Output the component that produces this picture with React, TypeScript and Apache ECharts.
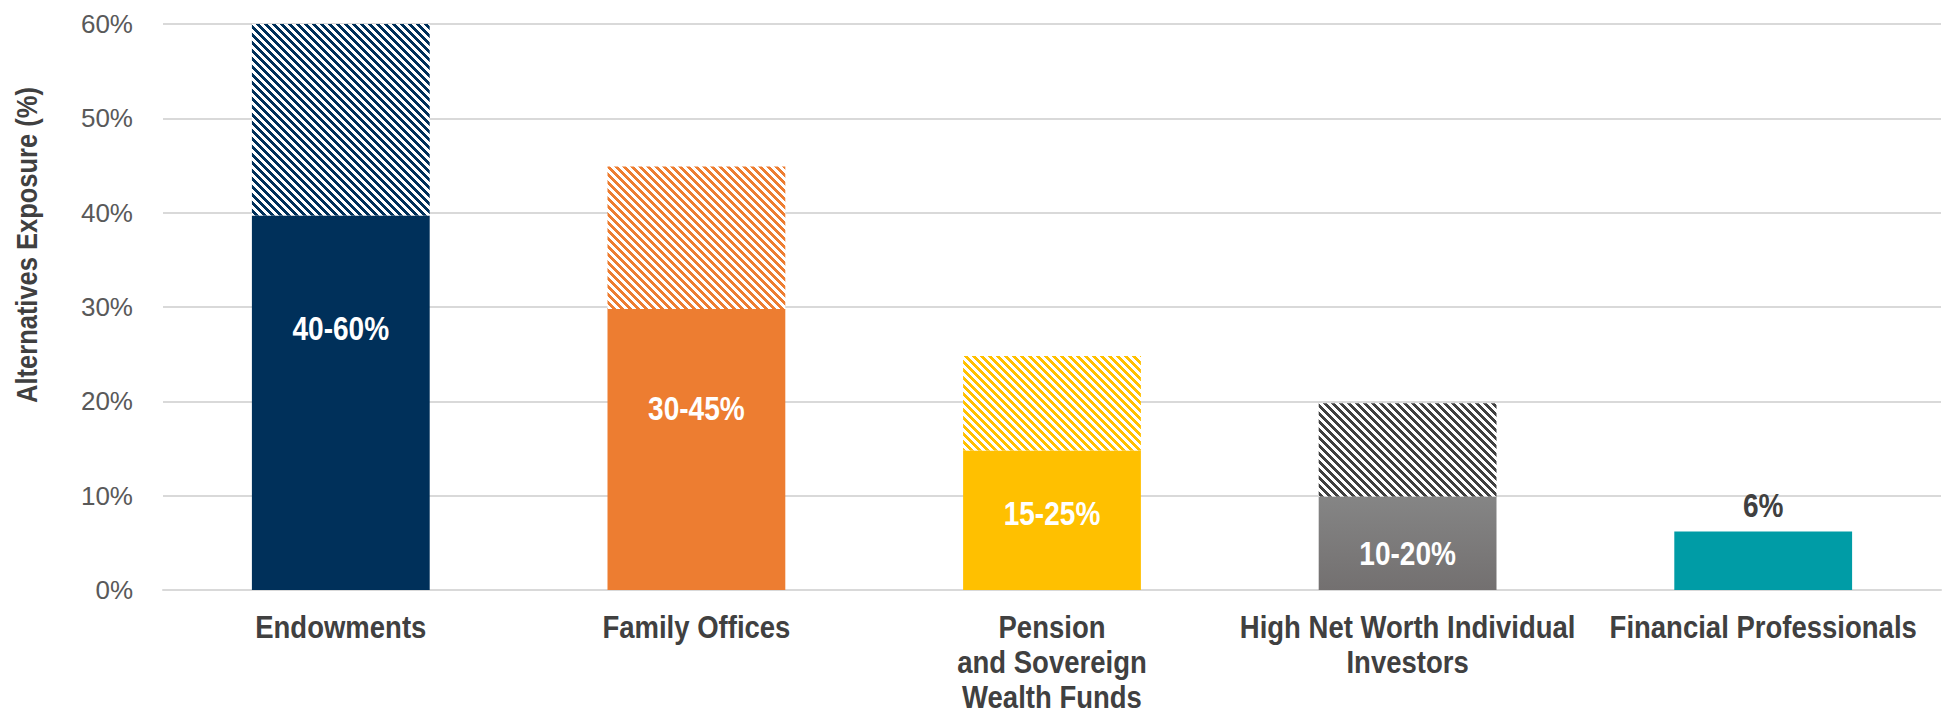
import React, { useEffect, useRef } from "react";
import * as echarts from "echarts";

const categories = [
  "Endowments",
  "Family Offices",
  "Pension\nand Sovereign\nWealth Funds",
  "High Net Worth Individual\nInvestors",
  "Financial Professionals",
];
const lowValues = [39.7, 29.8, 14.8, 9.9, 6.2];
const highValues = [60, 44.9, 24.8, 19.8, null];
const rangeLabels = ["40-60%", "30-45%", "15-25%", "10-20%", ""];
const rangeLabelAt = [27.8, 19.3, 8.1, 3.9, null];
const topLabels = ["", "", "", "", "6%"];
const yTicks = [0, 10, 20, 30, 40, 50, 60];

const solidColors = ["#00305A", "#ED7D31", "#FFC000", "gray", "#009CA6"];
const hatchColors = ["#00305A", "#ED7D31", "#FFC000", "#404040", "#009CA6"];

const SANS = "'Liberation Sans', Arial, sans-serif";
const NARROW_K = 0.86;

function makeHatch(color: string) {
  const c = document.createElement("canvas");
  c.width = 8;
  c.height = 8;
  const ctx = c.getContext("2d")!;
  ctx.fillStyle = "#ffffff";
  ctx.fillRect(0, 0, 8, 8);
  ctx.fillStyle = color;
  for (let y = 0; y < 8; y++) {
    for (let x = 0; x < 8; x++) {
      if ((((x - y) % 8) + 8) % 8 < 4) ctx.fillRect(x, y, 1, 1);
    }
  }
  return c;
}

export default function App() {
  const ref = useRef<HTMLDivElement>(null);
  useEffect(() => {
    if (!ref.current) return;
    const chart = echarts.init(ref.current, null, { renderer: "svg" });

    const solidData = lowValues.map((v, i) => ({
      value: v,
      itemStyle: {
        color:
          solidColors[i] === "gray"
            ? new echarts.graphic.LinearGradient(0, 0, 0, 1, [
                { offset: 0, color: "#858585" },
                { offset: 1, color: "#737070" },
              ])
            : solidColors[i],
      },
    }));

    const hatchData = highValues.map((h, i) =>
      h == null
        ? "-"
        : {
            value: +(h - lowValues[i]).toFixed(2),
            itemStyle: {
              color: {
                image: makeHatch(hatchColors[i]),
                repeat: "repeat",
                imageWidth: 8,
                imageHeight: 8,
              } as any,
            },
          }
    );

    const option: any = {
      animation: false,
      backgroundColor: "#ffffff",
      grid: { left: 163, right: 5, top: 24, bottom: 125, containLabel: false },
      xAxis: {
        type: "category",
        data: categories,
        axisLine: { show: true, lineStyle: { color: "#D9D9D9", width: 2 } },
        axisTick: { show: false },
        axisLabel: { show: false },
      },
      yAxis: {
        type: "value",
        min: 0,
        max: 60,
        interval: 10,
        axisLine: { show: false },
        axisTick: { show: false },
        splitLine: { lineStyle: { color: "#D9D9D9", width: 2 } },
        axisLabel: {
          formatter: "{value}%",
          margin: 30,
          color: "#595959",
          fontFamily: SANS,
          fontSize: 26,
          customValues: yTicks,
        },
      },
      graphic: [
        {
          type: "text",
          x: 27,
          y: 245,
          rotation: Math.PI / 2,
          scaleX: 0.85,
          style: {
            text: "Alternatives Exposure (%)",
            align: "center",
            verticalAlign: "middle",
            fill: "#404040",
            fontFamily: SANS,
            fontWeight: 700,
            fontSize: 30,
          },
        },
      ],
      series: [
        {
          name: "Low",
          type: "bar",
          stack: "range",
          barWidth: "50%",
          data: solidData,
        },
        {
          name: "High",
          type: "bar",
          stack: "range",
          barWidth: "50%",
          data: hatchData,
        },
        {
          name: "Range labels",
          type: "custom",
          silent: true,
          clip: false,
          z: 5,
          data: categories.map((_, i) => [
            i,
            rangeLabelAt[i] != null ? rangeLabelAt[i] : lowValues[i],
          ]),
          renderItem: (params: any, api: any) => {
            const i = params.dataIndex;
            const p = api.coord([api.value(0), api.value(1)]);
            const isTop = topLabels[i] !== "";
            return {
              type: "text",
              x: p[0],
              y: isTop ? p[1] - 26 : p[1],
              scaleX: 0.85,
              style: {
                text: isTop ? topLabels[i] : rangeLabels[i],
                align: "center",
                verticalAlign: "middle",
                fill: isTop ? "#404040" : "#ffffff",
                fontFamily: SANS,
                fontWeight: "bold",
                fontSize: 33,
              },
            };
          },
        },
        {
          name: "Category labels",
          type: "custom",
          silent: true,
          clip: false,
          z: 5,
          data: categories.map((_, i) => [i, 0]),
          renderItem: (params: any, api: any) => {
            const i = params.dataIndex;
            const p = api.coord([api.value(0), api.value(1)]);
            const lines = categories[i].split("\n");
            return {
              type: "group",
              children: lines.map((line, k) => ({
                type: "text",
                x: p[0],
                y: p[1] + 37 + 35 * k,
                scaleX: NARROW_K,
                style: {
                  text: line,
                  align: "center",
                  verticalAlign: "middle",
                  fill: "#404040",
                  fontFamily: SANS,
                  fontWeight: "bold",
                  fontSize: 32,
                },
              })),
            };
          },
        },
      ],
    };
    chart.setOption(option);
    return () => chart.dispose();
  }, []);
  return (
    <div
      ref={ref}
      style={{ position: "absolute", left: 0, top: 0, width: 1946, height: 715 }}
    />
  );
}
